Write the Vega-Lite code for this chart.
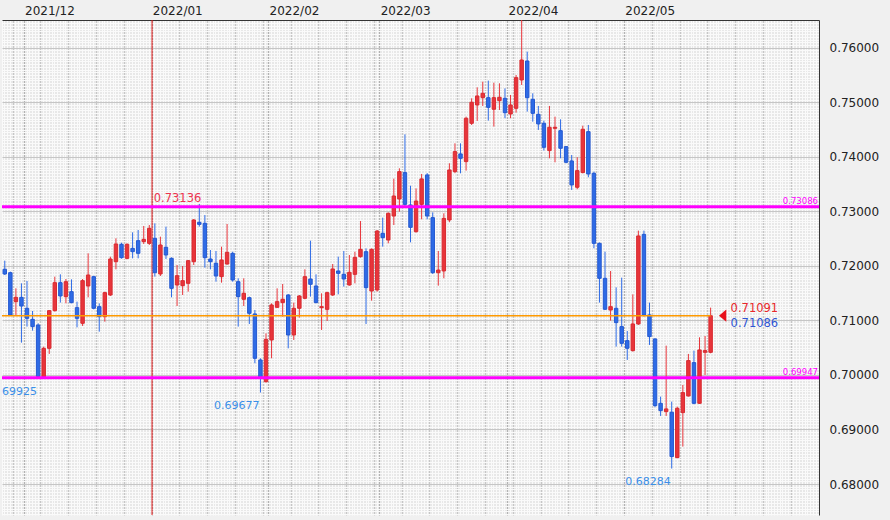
{
"$schema":"https://vega.github.io/schema/vega-lite/v6.json",
"width":817,"height":495,
"autosize":{"type":"none"},
"padding":{"left":2,"top":20,"right":71,"bottom":5},
"background":"#f0f0f0",
"config":{"view":{"fill":"#e8e8e8","stroke":null},"font":"DejaVu Sans"},
"datasets":{
"candles":[
{"d":"2021-11-25","o":0.71937,"h":0.72095,"l":0.71833,"c":0.71851},
{"d":"2021-11-26","o":0.71875,"h":0.71894,"l":0.71081,"c":0.71099},
{"d":"2021-11-29","o":0.71344,"h":0.71588,"l":0.71081,"c":0.71423},
{"d":"2021-11-30","o":0.71423,"h":0.71680,"l":0.70592,"c":0.71264},
{"d":"2021-12-01","o":0.71222,"h":0.71723,"l":0.70886,"c":0.71038},
{"d":"2021-12-02","o":0.71020,"h":0.71173,"l":0.70812,"c":0.70886},
{"d":"2021-12-03","o":0.70916,"h":0.70947,"l":0.69925,"c":0.69969},
{"d":"2021-12-06","o":0.69939,"h":0.70519,"l":0.69935,"c":0.70488},
{"d":"2021-12-07","o":0.70488,"h":0.71191,"l":0.70385,"c":0.71179},
{"d":"2021-12-08","o":0.71179,"h":0.71802,"l":0.71161,"c":0.71692},
{"d":"2021-12-09","o":0.71692,"h":0.71845,"l":0.71326,"c":0.71448},
{"d":"2021-12-10","o":0.71436,"h":0.71759,"l":0.71313,"c":0.71710},
{"d":"2021-12-13","o":0.71527,"h":0.71753,"l":0.71313,"c":0.71326},
{"d":"2021-12-14","o":0.71234,"h":0.71344,"l":0.70873,"c":0.71038},
{"d":"2021-12-15","o":0.70947,"h":0.71759,"l":0.70898,"c":0.71729},
{"d":"2021-12-16","o":0.71631,"h":0.72230,"l":0.71423,"c":0.71833},
{"d":"2021-12-17","o":0.71802,"h":0.71820,"l":0.71203,"c":0.71222},
{"d":"2021-12-20","o":0.71252,"h":0.71313,"l":0.70794,"c":0.71069},
{"d":"2021-12-21","o":0.71069,"h":0.71527,"l":0.70977,"c":0.71509},
{"d":"2021-12-22","o":0.71466,"h":0.72169,"l":0.71448,"c":0.72126},
{"d":"2021-12-23","o":0.72077,"h":0.72505,"l":0.71937,"c":0.72401},
{"d":"2021-12-24","o":0.72395,"h":0.72425,"l":0.72132,"c":0.72150},
{"d":"2021-12-27","o":0.72138,"h":0.72413,"l":0.72120,"c":0.72395},
{"d":"2021-12-28","o":0.72321,"h":0.72615,"l":0.72138,"c":0.72260},
{"d":"2021-12-29","o":0.72462,"h":0.72658,"l":0.72138,"c":0.72230},
{"d":"2021-12-30","o":0.72444,"h":0.72731,"l":0.72401,"c":0.72486},
{"d":"2021-12-31","o":0.72413,"h":0.72749,"l":0.72383,"c":0.72688},
{"d":"2022-01-03","o":0.72505,"h":0.72780,"l":0.71802,"c":0.71875},
{"d":"2022-01-04","o":0.71851,"h":0.72535,"l":0.71814,"c":0.72383},
{"d":"2022-01-05","o":0.72340,"h":0.72719,"l":0.72126,"c":0.72199},
{"d":"2022-01-06","o":0.72138,"h":0.72156,"l":0.71423,"c":0.71588},
{"d":"2022-01-07","o":0.71649,"h":0.72016,"l":0.71264,"c":0.71820},
{"d":"2022-01-10","o":0.71637,"h":0.71998,"l":0.71466,"c":0.71729},
{"d":"2022-01-11","o":0.71680,"h":0.72108,"l":0.71527,"c":0.72095},
{"d":"2022-01-12","o":0.72077,"h":0.72859,"l":0.72016,"c":0.72841},
{"d":"2022-01-13","o":0.72798,"h":0.73136,"l":0.72719,"c":0.72761},
{"d":"2022-01-14","o":0.72780,"h":0.72932,"l":0.71967,"c":0.72150},
{"d":"2022-01-17","o":0.72126,"h":0.72291,"l":0.71937,"c":0.72077},
{"d":"2022-01-18","o":0.72047,"h":0.72273,"l":0.71710,"c":0.71814},
{"d":"2022-01-19","o":0.71802,"h":0.72352,"l":0.71692,"c":0.72108},
{"d":"2022-01-20","o":0.72034,"h":0.72768,"l":0.72022,"c":0.72248},
{"d":"2022-01-21","o":0.72230,"h":0.72260,"l":0.71710,"c":0.71741},
{"d":"2022-01-24","o":0.71710,"h":0.71772,"l":0.70886,"c":0.71436},
{"d":"2022-01-25","o":0.71387,"h":0.71772,"l":0.71264,"c":0.71497},
{"d":"2022-01-26","o":0.71417,"h":0.71436,"l":0.70934,"c":0.71130},
{"d":"2022-01-27","o":0.71118,"h":0.71191,"l":0.70214,"c":0.70305},
{"d":"2022-01-28","o":0.70275,"h":0.70305,"l":0.69677,"c":0.69939},
{"d":"2022-01-31","o":0.69877,"h":0.70763,"l":0.69859,"c":0.70653},
{"d":"2022-02-01","o":0.70641,"h":0.71313,"l":0.70305,"c":0.71283},
{"d":"2022-02-02","o":0.71240,"h":0.71588,"l":0.71234,"c":0.71344},
{"d":"2022-02-03","o":0.71326,"h":0.71668,"l":0.71069,"c":0.71387},
{"d":"2022-02-04","o":0.71466,"h":0.71484,"l":0.70488,"c":0.70733},
{"d":"2022-02-07","o":0.70733,"h":0.71326,"l":0.70641,"c":0.71222},
{"d":"2022-02-08","o":0.71222,"h":0.71466,"l":0.71051,"c":0.71448},
{"d":"2022-02-09","o":0.71405,"h":0.71937,"l":0.71387,"c":0.71802},
{"d":"2022-02-10","o":0.71759,"h":0.72462,"l":0.71436,"c":0.71662},
{"d":"2022-02-11","o":0.71631,"h":0.71845,"l":0.71313,"c":0.71326},
{"d":"2022-02-14","o":0.71234,"h":0.71497,"l":0.70825,"c":0.71252},
{"d":"2022-02-15","o":0.71203,"h":0.71527,"l":0.70990,"c":0.71509},
{"d":"2022-02-16","o":0.71466,"h":0.72034,"l":0.71448,"c":0.71943},
{"d":"2022-02-17","o":0.71906,"h":0.72169,"l":0.71478,"c":0.71863},
{"d":"2022-02-18","o":0.71845,"h":0.72273,"l":0.71619,"c":0.71759},
{"d":"2022-02-21","o":0.71649,"h":0.72199,"l":0.71637,"c":0.71882},
{"d":"2022-02-22","o":0.71845,"h":0.72260,"l":0.71680,"c":0.72156},
{"d":"2022-02-23","o":0.72169,"h":0.72822,"l":0.72150,"c":0.72303},
{"d":"2022-02-24","o":0.72260,"h":0.72321,"l":0.70934,"c":0.71600},
{"d":"2022-02-25","o":0.71539,"h":0.72321,"l":0.71362,"c":0.72303},
{"d":"2022-02-28","o":0.71558,"h":0.72658,"l":0.71527,"c":0.72639},
{"d":"2022-03-01","o":0.72596,"h":0.72884,"l":0.72352,"c":0.72517},
{"d":"2022-03-02","o":0.72474,"h":0.72981,"l":0.72413,"c":0.72963},
{"d":"2022-03-03","o":0.72914,"h":0.73600,"l":0.72749,"c":0.73281},
{"d":"2022-03-04","o":0.73226,"h":0.73789,"l":0.72994,"c":0.73728},
{"d":"2022-03-07","o":0.73710,"h":0.74412,"l":0.73080,"c":0.73128},
{"d":"2022-03-08","o":0.73116,"h":0.73470,"l":0.72431,"c":0.72706},
{"d":"2022-03-09","o":0.72627,"h":0.73421,"l":0.72609,"c":0.73189},
{"d":"2022-03-10","o":0.73128,"h":0.73685,"l":0.72853,"c":0.73594},
{"d":"2022-03-11","o":0.73667,"h":0.73700,"l":0.72853,"c":0.72914},
{"d":"2022-03-14","o":0.72884,"h":0.72981,"l":0.71851,"c":0.71875},
{"d":"2022-03-15","o":0.71875,"h":0.72273,"l":0.71637,"c":0.71924},
{"d":"2022-03-16","o":0.71906,"h":0.72963,"l":0.71772,"c":0.72871},
{"d":"2022-03-17","o":0.72841,"h":0.73881,"l":0.72800,"c":0.73758},
{"d":"2022-03-18","o":0.73728,"h":0.74247,"l":0.73700,"c":0.74095},
{"d":"2022-03-21","o":0.74052,"h":0.74247,"l":0.73697,"c":0.73972},
{"d":"2022-03-22","o":0.73911,"h":0.74736,"l":0.73746,"c":0.74706},
{"d":"2022-03-23","o":0.74614,"h":0.75072,"l":0.74583,"c":0.74999},
{"d":"2022-03-24","o":0.74950,"h":0.75274,"l":0.74657,"c":0.75115},
{"d":"2022-03-25","o":0.75084,"h":0.75378,"l":0.74932,"c":0.75164},
{"d":"2022-03-28","o":0.75084,"h":0.75396,"l":0.74663,"c":0.74907},
{"d":"2022-03-29","o":0.74871,"h":0.75359,"l":0.74553,"c":0.75084},
{"d":"2022-03-30","o":0.75029,"h":0.75347,"l":0.74858,"c":0.75091},
{"d":"2022-03-31","o":0.75072,"h":0.75255,"l":0.74706,"c":0.74809},
{"d":"2022-04-01","o":0.74785,"h":0.75133,"l":0.74706,"c":0.74950},
{"d":"2022-04-04","o":0.74889,"h":0.75500,"l":0.74809,"c":0.75451},
{"d":"2022-04-05","o":0.75408,"h":0.76610,"l":0.75317,"c":0.75775},
{"d":"2022-04-06","o":0.75756,"h":0.75928,"l":0.74828,"c":0.75084},
{"d":"2022-04-07","o":0.75054,"h":0.75164,"l":0.74644,"c":0.74797},
{"d":"2022-04-08","o":0.74779,"h":0.74932,"l":0.74492,"c":0.74602},
{"d":"2022-04-11","o":0.74614,"h":0.74663,"l":0.74113,"c":0.74174},
{"d":"2022-04-12","o":0.74113,"h":0.74932,"l":0.73972,"c":0.74541},
{"d":"2022-04-13","o":0.74522,"h":0.74736,"l":0.73899,"c":0.74541},
{"d":"2022-04-14","o":0.74479,"h":0.74687,"l":0.73972,"c":0.74156},
{"d":"2022-04-15","o":0.74186,"h":0.74198,"l":0.73881,"c":0.73899},
{"d":"2022-04-18","o":0.73924,"h":0.74033,"l":0.73392,"c":0.73484},
{"d":"2022-04-19","o":0.73441,"h":0.73991,"l":0.73404,"c":0.73746},
{"d":"2022-04-20","o":0.73710,"h":0.74571,"l":0.73697,"c":0.74504},
{"d":"2022-04-21","o":0.74461,"h":0.74583,"l":0.73624,"c":0.73685},
{"d":"2022-04-22","o":0.73697,"h":0.73728,"l":0.72322,"c":0.72413},
{"d":"2022-04-25","o":0.72413,"h":0.72430,"l":0.71326,"c":0.71772},
{"d":"2022-04-26","o":0.71772,"h":0.72261,"l":0.71191,"c":0.71204},
{"d":"2022-04-27","o":0.71191,"h":0.71906,"l":0.70996,"c":0.71252},
{"d":"2022-04-28","o":0.71222,"h":0.71607,"l":0.70519,"c":0.70959},
{"d":"2022-04-29","o":0.70886,"h":0.71784,"l":0.70519,"c":0.70580},
{"d":"2022-05-02","o":0.70629,"h":0.70806,"l":0.70275,"c":0.70489},
{"d":"2022-05-03","o":0.70446,"h":0.71478,"l":0.70428,"c":0.70935},
{"d":"2022-05-04","o":0.70935,"h":0.72646,"l":0.70916,"c":0.72548},
{"d":"2022-05-05","o":0.72578,"h":0.72646,"l":0.71069,"c":0.71100},
{"d":"2022-05-06","o":0.71100,"h":0.71326,"l":0.70550,"c":0.70703},
{"d":"2022-05-09","o":0.70660,"h":0.70672,"l":0.69407,"c":0.69438},
{"d":"2022-05-10","o":0.69480,"h":0.69603,"l":0.69248,"c":0.69346},
{"d":"2022-05-11","o":0.69328,"h":0.70537,"l":0.69248,"c":0.69377},
{"d":"2022-05-12","o":0.69316,"h":0.69511,"l":0.68284,"c":0.68503},
{"d":"2022-05-13","o":0.68485,"h":0.69419,"l":0.68472,"c":0.69389},
{"d":"2022-05-16","o":0.69309,"h":0.69817,"l":0.68686,"c":0.69676},
{"d":"2022-05-17","o":0.69615,"h":0.70385,"l":0.69603,"c":0.70263},
{"d":"2022-05-18","o":0.70226,"h":0.70446,"l":0.69462,"c":0.69480},
{"d":"2022-05-19","o":0.69480,"h":0.70690,"l":0.69468,"c":0.70458},
{"d":"2022-05-20","o":0.70415,"h":0.70715,"l":0.69999,"c":0.70446},
{"d":"2022-05-23","o":0.70415,"h":0.71234,"l":0.70397,"c":0.71086}
],
"notes":[
{"d":"2022-01-13","v":0.73136,"t":"0.73136","k":"high"},
{"d":"2021-12-03","v":0.69925,"t":"0.69925","k":"low"},
{"d":"2022-01-28","v":0.69677,"t":"0.69677","k":"low"},
{"d":"2022-05-12","v":0.68284,"t":"0.68284","k":"low"}
],
"levels":[
{"d":"2022-06-17","v":0.73086,"t":"0.73086"},
{"d":"2022-06-17","v":0.69947,"t":"0.69947"}
],
"last":[{"d0":"2021-11-25","d":"2022-05-23","ask":0.71091,"bid":0.71086}],
"marker":[{"d":"2022-01-03"}]
},
"resolve":{"axis":{"x":"independent","y":"independent"}},
"layer":[
{
"data":{"name":"candles"},
"mark":{"type":"rule","opacity":0},
"encoding":{
"x":{"field":"d","type":"ordinal",
"scale":{"type":"band","paddingInner":0,"paddingOuter":0,"domain":["2021-11-25","2021-11-26","2021-11-29","2021-11-30","2021-12-01","2021-12-02","2021-12-03","2021-12-06","2021-12-07","2021-12-08","2021-12-09","2021-12-10","2021-12-13","2021-12-14","2021-12-15","2021-12-16","2021-12-17","2021-12-20","2021-12-21","2021-12-22","2021-12-23","2021-12-24","2021-12-27","2021-12-28","2021-12-29","2021-12-30","2021-12-31","2022-01-03","2022-01-04","2022-01-05","2022-01-06","2022-01-07","2022-01-10","2022-01-11","2022-01-12","2022-01-13","2022-01-14","2022-01-17","2022-01-18","2022-01-19","2022-01-20","2022-01-21","2022-01-24","2022-01-25","2022-01-26","2022-01-27","2022-01-28","2022-01-31","2022-02-01","2022-02-02","2022-02-03","2022-02-04","2022-02-07","2022-02-08","2022-02-09","2022-02-10","2022-02-11","2022-02-14","2022-02-15","2022-02-16","2022-02-17","2022-02-18","2022-02-21","2022-02-22","2022-02-23","2022-02-24","2022-02-25","2022-02-28","2022-03-01","2022-03-02","2022-03-03","2022-03-04","2022-03-07","2022-03-08","2022-03-09","2022-03-10","2022-03-11","2022-03-14","2022-03-15","2022-03-16","2022-03-17","2022-03-18","2022-03-21","2022-03-22","2022-03-23","2022-03-24","2022-03-25","2022-03-28","2022-03-29","2022-03-30","2022-03-31","2022-04-01","2022-04-04","2022-04-05","2022-04-06","2022-04-07","2022-04-08","2022-04-11","2022-04-12","2022-04-13","2022-04-14","2022-04-15","2022-04-18","2022-04-19","2022-04-20","2022-04-21","2022-04-22","2022-04-25","2022-04-26","2022-04-27","2022-04-28","2022-04-29","2022-05-02","2022-05-03","2022-05-04","2022-05-05","2022-05-06","2022-05-09","2022-05-10","2022-05-11","2022-05-12","2022-05-13","2022-05-16","2022-05-17","2022-05-18","2022-05-19","2022-05-20","2022-05-23","2022-05-24","2022-05-25","2022-05-26","2022-05-27","2022-05-30","2022-05-31","2022-06-01","2022-06-02","2022-06-03","2022-06-06","2022-06-07","2022-06-08","2022-06-09","2022-06-10","2022-06-13","2022-06-14","2022-06-15","2022-06-16","2022-06-17"]},
"axis":{"orient":"bottom","grid":true,"gridColor":"#fafafa","gridWidth":1,"bandPosition":0,"labels":false,"ticks":false,"domain":false,"title":null}},
"y":{"field":"l","type":"quantitative",
"scale":{"domain":[0.67432,0.76508],"nice":false,"zero":false},
"axis":{"orient":"left","tickCount":180,"grid":true,"gridColor":"#fafafa","gridWidth":1,"labels":false,"ticks":false,"domain":false,"title":null}}
}
},
{
"data":{"name":"candles"},
"mark":{"type":"rule","opacity":0},
"encoding":{
"x":{"field":"d","type":"ordinal","axis":{"orient":"bottom","grid":true,"gridColor":"#fafafa","gridWidth":1,"bandPosition":0.5,"labels":false,"ticks":false,"domain":false,"title":null}},
"y":{"field":"l","type":"quantitative","axis":null}
}
},
{
"data":{"name":"candles"},
"mark":{"type":"rule","opacity":0},
"encoding":{
"x":{"field":"d","type":"ordinal","axis":{"orient":"bottom","values":["2021-11-29","2021-12-06","2021-12-13","2021-12-20","2021-12-27","2022-01-10","2022-01-17","2022-01-24","2022-01-31","2022-02-07","2022-02-14","2022-02-21","2022-02-28","2022-03-07","2022-03-14","2022-03-21","2022-03-28","2022-04-04","2022-04-11","2022-04-18","2022-04-25","2022-05-09","2022-05-16","2022-05-23","2022-05-30","2022-06-06","2022-06-13"],"grid":true,"gridColor":"#c6c6c6","bandPosition":0,"labels":false,"ticks":false,"domain":false,"title":null}},
"y":{"field":"l","type":"quantitative","axis":{"orient":"right","values":[0.68,0.69,0.70,0.71,0.72,0.73,0.74,0.75,0.76],"format":".5f","grid":true,"gridColor":"#c6c6c6","ticks":false,"domain":true,"domainColor":"#333333","labelPadding":10,"labelFontSize":12,"labelColor":"#222222","labelFont":"DejaVu Sans","title":null}}
}
},
{
"data":{"name":"candles"},
"mark":{"type":"rule","opacity":0},
"encoding":{
"x":{"field":"d","type":"ordinal","axis":{"orient":"top","values":["2021-12-01","2022-01-03","2022-02-01","2022-03-01","2022-04-01","2022-05-02"],"labelExpr":"replace(slice(datum.value,0,7),'-','/')","grid":true,"gridColor":"#b2b2b2","bandPosition":0,"labelAlign":"left","labelOffset":-2,"labelPadding":3,"labelAngle":0,"labelFontSize":12,"labelColor":"#222222","labelFont":"DejaVu Sans","ticks":false,"domain":true,"domainColor":"#333333","title":null}},
"y":{"field":"l","type":"quantitative","axis":null}
}
},
{
"data":{"name":"marker"},
"mark":{"type":"rule","color":"#e01818","strokeWidth":1},
"encoding":{"x":{"field":"d","type":"ordinal","bandPosition":0,"axis":null}}
},
{
"data":{"name":"candles"},
"mark":{"type":"rule","strokeWidth":1,"clip":true},
"encoding":{
"x":{"field":"d","type":"ordinal","axis":null},
"y":{"field":"l","type":"quantitative","axis":null},
"y2":{"field":"h"},
"color":{"condition":{"test":"datum.c >= datum.o","value":"#e8353b"},"value":"#2e6be6"}
}
},
{
"data":{"name":"candles"},
"mark":{"type":"bar","width":{"band":0.62},"strokeWidth":1,"clip":true},
"encoding":{
"x":{"field":"d","type":"ordinal","axis":null},
"y":{"field":"o","type":"quantitative","axis":null},
"y2":{"field":"c"},
"color":{"condition":{"test":"datum.c >= datum.o","value":"#e8353b"},"value":"#2e6be6"},
"stroke":{"condition":{"test":"datum.c >= datum.o","value":"#d82a30"},"value":"#2458d0"}
}
},
{
"data":{"name":"last"},
"mark":{"type":"rule","color":"#ff9a00","strokeWidth":1.4},
"encoding":{
"x":{"field":"d0","type":"ordinal","bandPosition":0,"axis":null},
"x2":{"field":"d"},
"y":{"field":"bid","type":"quantitative","axis":null}
}
},
{
"data":{"name":"levels"},
"mark":{"type":"rule","color":"#ff00ff","strokeWidth":3},
"encoding":{"y":{"field":"v","type":"quantitative","axis":null}}
},
{
"data":{"name":"levels"},
"mark":{"type":"text","color":"#ff00ff","fontSize":8.5,"font":"DejaVu Sans","align":"right","baseline":"alphabetic","dx":-1,"dy":-3},
"encoding":{
"x":{"field":"d","type":"ordinal","bandPosition":1,"axis":null},
"y":{"field":"v","type":"quantitative","axis":null},
"text":{"field":"t","type":"nominal"}
}
},
{
"data":{"name":"notes"},
"transform":[{"filter":"datum.k == 'high'"}],
"mark":{"type":"text","color":"#ec3550","fontSize":11.5,"font":"DejaVu Sans","align":"right","baseline":"alphabetic","dx":2,"dy":-2,"clip":true},
"encoding":{
"x":{"field":"d","type":"ordinal","axis":null},
"y":{"field":"v","type":"quantitative","axis":null},
"text":{"field":"t","type":"nominal"}
}
},
{
"data":{"name":"notes"},
"transform":[{"filter":"datum.k == 'low'"}],
"mark":{"type":"text","color":"#3a8fe8","fontSize":11,"font":"DejaVu Sans","align":"right","baseline":"top","dx":-1,"dy":7,"clip":true},
"encoding":{
"x":{"field":"d","type":"ordinal","axis":null},
"y":{"field":"v","type":"quantitative","axis":null},
"text":{"field":"t","type":"nominal"}
}
},
{
"data":{"name":"last"},
"mark":{"type":"point","shape":"M-0.6,0L0.6,-1L0.6,1Z","size":150,"filled":true,"color":"#e8101a","opacity":1,"strokeWidth":0,"xOffset":12},
"encoding":{
"x":{"field":"d","type":"ordinal","axis":null},
"y":{"field":"bid","type":"quantitative","axis":null}
}
},
{
"data":{"name":"last"},
"mark":{"type":"text","color":"#e8282b","fontSize":11.5,"font":"DejaVu Sans","align":"left","baseline":"middle","dx":20,"dy":-6},
"encoding":{
"x":{"field":"d","type":"ordinal","axis":null},
"y":{"field":"ask","type":"quantitative","axis":null},
"text":{"field":"ask","type":"quantitative","format":".5f"}
}
},
{
"data":{"name":"last"},
"mark":{"type":"text","color":"#2f55d4","fontSize":11.5,"font":"DejaVu Sans","align":"left","baseline":"middle","dx":20,"dy":8},
"encoding":{
"x":{"field":"d","type":"ordinal","axis":null},
"y":{"field":"bid","type":"quantitative","axis":null},
"text":{"field":"bid","type":"quantitative","format":".5f"}
}
}
]
}
